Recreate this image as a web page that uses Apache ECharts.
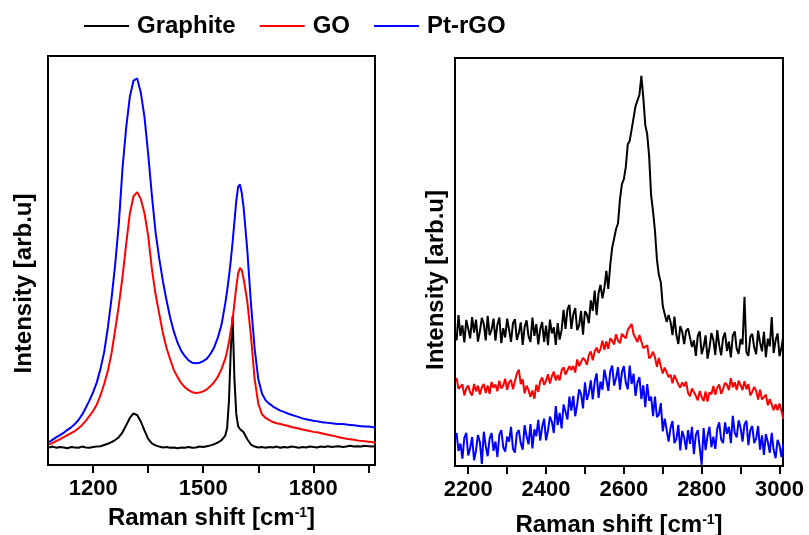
<!DOCTYPE html>
<html>
<head>
<meta charset="utf-8">
<script src="https://cdn.jsdelivr.net/npm/echarts@6/dist/echarts.min.js"></script>
<style>
  html, body { margin: 0; padding: 0; background: #fff; }
  #main { width: 809px; height: 535px; }
</style>
</head>
<body>
<div id="main"></div>
<script>
// left panel: D and G bands
const leftShift = [
  1080,1090,1100,1110,1120,1130,1140,1150,1160,1170,
  1180,1190,1200,1210,1220,1230,1240,1250,1260,1270,
  1280,1290,1300,1310,1320,1330,1340,1350,1360,1370,
  1380,1390,1400,1410,1420,1430,1440,1450,1460,1470,
  1480,1490,1500,1510,1520,1530,1540,1550,1560,1565,
  1570,1575,1580,1585,1590,1595,1600,1605,1610,1620,
  1630,1640,1650,1660,1670,1680,1690,1700,1710,1720,
  1730,1740,1750,1760,1770,1780,1790,1800,1810,1820,
  1830,1840,1850,1860,1870,1880,1890,1900,1910,1920,
  1930,1940,1950,1960,1970
];
const graphiteLeft = [
  4.3,4.5,4.2,4.4,4.3,4.1,4.4,4.3,4.2,4.5,
  4.3,4.2,4.4,4.5,4.6,4.9,5.2,5.6,6.1,6.8,
  8.0,9.7,11.5,12.6,12.2,10.6,8.4,6.4,5.3,4.8,
  4.5,4.3,4.4,4.2,4.3,4.1,4.3,4.2,4.4,4.2,
  4.3,4.5,4.4,4.6,4.8,5.1,5.5,6.1,7.2,9.0,
  15.5,28.0,36.4,21.0,12.5,9.5,8.8,8.4,8.0,6.3,
  5.0,4.5,4.3,4.4,4.2,4.4,4.3,4.5,4.2,4.4,
  4.3,4.5,4.4,4.2,4.4,4.3,4.5,4.4,4.3,4.5,
  4.4,4.6,4.4,4.5,4.6,4.4,4.5,4.7,4.5,4.6,
  4.5,4.7,4.6,4.5,4.6
];
const goLeft = [
  5.0,5.4,5.9,6.3,6.8,7.3,7.8,8.3,9.0,9.8,
  10.8,12.0,13.2,14.8,17.0,19.8,23.0,27.3,33.0,39.0,
  46.0,54.0,61.5,65.7,66.7,65.0,61.5,56.0,48.0,41.8,
  37.0,32.3,28.6,25.8,23.2,21.5,20.0,19.0,18.3,17.8,
  17.6,17.7,18.0,18.5,19.3,20.3,21.6,23.5,26.0,27.8,
  30.0,32.8,35.5,39.5,43.5,46.8,48.2,47.6,45.5,40.0,
  31.5,21.0,15.0,12.4,11.5,11.0,10.5,10.2,10.0,9.8,
  9.6,9.3,9.1,8.9,8.7,8.5,8.3,8.1,8.0,7.8,
  7.6,7.4,7.2,7.0,6.8,6.6,6.4,6.3,6.2,6.0,
  5.9,5.8,5.7,5.6,5.4
];
const ptrgoLeft = [
  5.6,6.2,6.8,7.3,7.9,8.6,9.2,10.0,11.0,12.3,
  14.0,15.8,17.8,20.2,23.5,27.6,33.5,40.6,49.0,59.0,
  72.5,82.5,90.0,94.0,94.5,91.0,85.0,76.0,66.0,57.0,
  50.5,45.0,40.2,36.0,32.6,29.9,27.9,26.6,25.6,25.0,
  24.9,25.0,25.4,26.0,27.2,28.8,31.2,34.4,39.5,42.5,
  46.0,50.0,54.5,59.5,64.5,68.0,68.6,66.5,63.0,52.5,
  39.5,28.5,21.0,17.5,15.8,15.0,14.3,13.8,13.3,13.0,
  12.6,12.3,12.0,11.7,11.4,11.2,11.0,10.8,10.7,10.5,
  10.4,10.3,10.2,10.1,10.0,10.0,9.9,9.8,9.7,9.6,
  9.5,9.4,9.4,9.3,9.2
];

// right panel: 2D band
const rightShift = [
  2170,2175,2180,2185,2190,2195,2200,2205,2210,2215,
  2220,2225,2230,2235,2240,2245,2250,2255,2260,2265,
  2270,2275,2280,2285,2290,2295,2300,2305,2310,2315,
  2320,2325,2330,2335,2340,2345,2350,2355,2360,2365,
  2370,2375,2380,2385,2390,2395,2400,2405,2410,2415,
  2420,2425,2430,2435,2440,2445,2450,2455,2460,2465,
  2470,2475,2480,2485,2490,2495,2500,2505,2510,2515,
  2520,2525,2530,2535,2540,2545,2550,2555,2560,2565,
  2570,2575,2580,2585,2590,2595,2600,2605,2610,2615,
  2620,2625,2630,2635,2640,2645,2650,2655,2660,2665,
  2670,2675,2680,2685,2690,2695,2700,2705,2710,2715,
  2720,2725,2730,2735,2740,2745,2750,2755,2760,2765,
  2770,2775,2780,2785,2790,2795,2800,2805,2810,2815,
  2820,2825,2830,2835,2840,2845,2850,2855,2860,2865,
  2870,2875,2880,2885,2890,2895,2900,2905,2910,2915,
  2920,2925,2930,2935,2940,2945,2950,2955,2960,2965,
  2970,2975,2980,2985,2990,2995,3000,3005,3010
];
const graphiteRight = [
  30.8,37.0,31.9,34.5,30.3,35.8,33.6,31.3,36.5,32.7,
  35.9,30.5,33.0,36.3,34.8,30.8,36.8,32.1,33.4,36.1,
  30.7,34.7,36.4,30.1,33.8,31.5,36.1,33.4,30.4,35.0,
  36.0,30.9,32.6,35.2,29.7,34.1,35.7,31.8,30.4,36.4,
  31.9,34.8,29.8,33.5,35.3,30.4,34.4,29.6,35.9,32.5,
  34.0,29.7,35.0,31.0,33.3,38.3,33.6,38.4,39.5,33.6,
  37.1,38.7,33.3,34.4,38.0,32.2,37.9,37.2,35.0,40.6,
  38.0,43.0,37.0,42.4,44.4,41.1,43.7,47.8,43.4,49.3,
  53.5,53.9,58.1,59.5,65.4,69.1,70.3,73.3,78.8,79.7,
  82.5,82.4,88.2,88.5,91.0,95.6,90.3,83.6,81.3,75.9,
  66.4,62.4,57.6,50.6,46.8,45.0,39.2,39.2,35.3,37.0,
  35.3,32.1,36.6,32.1,29.9,34.3,32.9,29.9,33.1,33.7,
  33.8,29.2,30.8,27.0,31.9,33.0,27.4,29.2,32.0,26.3,
  28.9,32.6,30.9,27.2,33.3,29.7,27.1,31.4,32.7,28.2,
  30.5,26.6,32.0,33.0,28.7,27.5,31.1,29.8,41.5,27.9,
  27.0,31.7,32.4,29.1,27.4,33.2,30.3,28.1,32.9,26.7,
  31.2,29.3,36.5,27.7,30.8,32.5,26.9,29.0,32.1
];
const goRight = [
  21.6,18.9,19.2,20.0,17.3,19.1,19.7,18.0,17.3,20.1,
  18.3,19.7,17.5,19.3,20.1,17.9,19.7,17.7,20.6,19.2,
  20.0,18.3,20.9,19.0,19.7,21.4,18.7,20.5,21.1,18.8,
  20.8,22.7,23.6,20.1,21.2,17.8,19.7,18.6,16.9,18.5,
  16.5,19.9,18.2,20.8,21.7,19.9,20.9,22.5,20.2,22.0,
  23.1,21.0,22.3,21.0,23.4,24.2,22.4,22.1,24.5,23.5,
  24.5,22.9,26.1,24.5,24.3,26.5,26.0,24.8,27.2,28.1,
  25.9,28.1,29.0,27.7,28.7,30.7,28.5,30.5,28.7,31.3,
  30.7,29.8,32.3,30.7,30.1,32.4,32.2,31.3,33.3,34.1,
  34.8,32.3,32.5,30.4,32.1,32.0,28.9,29.0,29.6,26.4,
  26.9,28.0,26.6,24.3,26.5,24.4,22.7,24.1,24.2,21.8,
  22.4,20.3,22.3,22.4,20.0,19.2,20.5,19.5,20.7,17.9,
  17.1,19.0,19.0,17.2,16.1,18.4,16.9,15.9,18.3,15.8,
  18.1,17.6,19.6,17.5,19.1,20.0,17.7,18.8,20.4,19.9,
  18.6,21.5,19.3,20.5,18.6,20.9,19.8,18.6,20.8,18.8,
  20.1,17.3,18.2,19.4,18.4,16.3,18.7,16.3,16.6,17.5,
  14.9,16.4,16.8,13.7,15.1,13.7,15.3,13.5,11.5
];
const ptrgoRight = [
  8.1,3.7,5.5,1.8,6.9,8.1,2.6,4.4,7.1,1.4,
  3.8,7.6,5.9,0.5,8.4,4.9,2.4,6.7,8.1,3.7,
  6.0,2.2,7.7,8.8,4.6,3.5,7.2,6.0,9.6,4.2,
  3.3,8.1,8.8,5.6,4.0,10.0,7.3,5.3,10.3,4.3,
  9.0,7.3,11.3,6.2,9.6,11.6,6.3,8.7,12.1,10.8,
  8.1,14.7,10.0,13.0,9.2,15.1,13.3,11.4,17.0,13.6,
  17.2,12.2,15.1,18.8,17.7,14.1,20.5,16.2,17.9,21.0,
  16.3,20.7,22.7,16.7,20.7,18.7,23.6,21.2,18.4,23.2,
  24.6,19.7,21.6,24.2,18.7,23.0,24.5,20.4,18.8,24.6,
  20.1,22.6,17.2,20.5,21.8,16.4,19.8,14.4,20.1,16.0,
  17.0,12.2,17.0,12.0,12.6,15.4,8.5,11.6,12.0,6.0,
  9.4,11.0,5.6,6.6,10.1,3.8,8.6,7.0,4.0,8.8,
  5.4,9.6,2.9,7.6,8.8,4.5,0.3,9.3,3.9,7.4,
  9.6,4.6,7.2,4.2,9.1,10.7,6.5,5.6,10.7,7.9,
  9.6,5.6,12.3,8.1,7.0,11.2,9.4,6.0,10.2,11.1,
  5.1,8.8,9.8,5.6,6.7,9.8,4.0,7.5,2.7,7.8,
  5.9,3.2,8.1,3.9,1.9,6.4,5.1,2.2,5.5
];

const leftTicks = [1200, 1350, 1500, 1650, 1800, 1950];
const leftLabels = [1200, 1500, 1800];
const rightTicks = [2200, 2300, 2400, 2500, 2600, 2700, 2800, 2900, 3000];
const rightLabels = [2200, 2400, 2600, 2800, 3000];

const FONT = '"Liberation Sans", Arial, Helvetica, sans-serif';

function pairs(xs, ys) {
  return xs.map(function (x, i) { return [x, ys[i]]; });
}

function xAxisCfg(idx, min, max, ticks, labels, gap) {
  return {
    type: 'value', gridIndex: idx, min: min, max: max,
    name: '{t|Raman shift [cm}{s|-1}{t|]}',
    nameLocation: 'middle', nameGap: gap,
    nameTextStyle: {
      rich: {
        t: { fontSize: 24, fontWeight: 'bold', fontFamily: FONT, color: '#000' },
        s: { fontSize: 14, fontWeight: 'bold', fontFamily: FONT, color: '#000', verticalAlign: 'top' }
      }
    },
    axisLine: { show: true, lineStyle: { color: '#000', width: 2 } },
    axisTick: { show: true, inside: false, length: 8, customValues: ticks, lineStyle: { color: '#000', width: 2 } },
    axisLabel: {
      customValues: labels, margin: 13, fontSize: 22, fontWeight: 'bold', fontFamily: FONT, color: '#000',
      formatter: function (v) { return String(v); }
    },
    splitLine: { show: false }
  };
}

function yAxisCfg(idx, gap, pad) {
  return {
    type: 'value', gridIndex: idx, min: 0, max: 100,
    name: 'Intensity [arb.u]', nameLocation: 'middle', nameGap: gap,
    nameTextStyle: { fontSize: 24, fontWeight: 'bold', fontFamily: FONT, color: '#000', padding: [0, pad, 0, 0] },
    axisLine: { show: false }, axisTick: { show: false },
    axisLabel: { show: false }, splitLine: { show: false }
  };
}

function lineSeries(name, color, xi, data) {
  return {
    name: name, type: 'line', xAxisIndex: xi, yAxisIndex: xi,
    data: data, showSymbol: false, symbol: 'none',
    lineStyle: { color: color, width: 2 }, itemStyle: { color: color },
    animation: false
  };
}

const chart = echarts.init(document.getElementById('main'));
chart.setOption({
  backgroundColor: '#fff',
  animation: false,
  legend: {
    left: 84, top: 14, padding: 0, itemGap: 24,
    itemWidth: 45, itemHeight: 2, icon: 'rect',
    data: ['Graphite', 'GO', 'Pt-rGO'],
    textStyle: { fontSize: 24, fontWeight: 'bold', fontFamily: FONT, color: '#000', padding: [0, 0, 0, 3] }
  },
  grid: [
    { left: 48, top: 56, width: 327, height: 409, show: true, borderColor: '#000', borderWidth: 2, outerBoundsMode: 'none' },
    { left: 455, top: 58, width: 328, height: 408, show: true, borderColor: '#000', borderWidth: 2, outerBoundsMode: 'none' }
  ],
  xAxis: [
    xAxisCfg(0, 1077, 1968, leftTicks, leftLabels, 41),
    xAxisCfg(1, 2166, 3009, rightTicks, rightLabels, 47)
  ],
  yAxis: [
    yAxisCfg(0, 12, 46),
    yAxisCfg(1, 7, 36)
  ],
  series: [
    lineSeries('Graphite', '#000000', 0, pairs(leftShift, graphiteLeft)),
    lineSeries('GO', '#ff0000', 0, pairs(leftShift, goLeft)),
    lineSeries('Pt-rGO', '#0000ff', 0, pairs(leftShift, ptrgoLeft)),
    lineSeries('Graphite', '#000000', 1, pairs(rightShift, graphiteRight)),
    lineSeries('GO', '#ff0000', 1, pairs(rightShift, goRight)),
    lineSeries('Pt-rGO', '#0000ff', 1, pairs(rightShift, ptrgoRight))
  ]
});
</script>
</body>
</html>
